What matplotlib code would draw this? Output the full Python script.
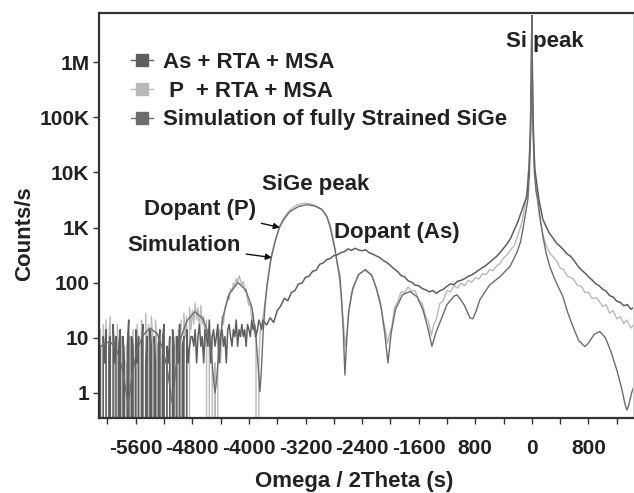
import numpy as np
import matplotlib
matplotlib.use('Agg')
import matplotlib.pyplot as plt
from matplotlib.lines import Line2D
from matplotlib.legend_handler import HandlerLine2D

plt.rcParams['font.family'] = 'Liberation Sans'
plt.rcParams['font.weight'] = 'bold'
plt.rcParams['axes.labelweight'] = 'bold'

# ---- data (Omega/2Theta in s, counts/s) ----

# As + RTA + MSA : noisy low part, 20 s steps from -6100
as_low = [7, 0, 10.5, 3.5, 14, 0, 7, 10.5, 0, 17.5,
          3.5, 10.5, 0, 7, 14, 0, 10.5, 3.5, 0, 7,
          21, 0, 10.5, 7, 0, 14, 3.5, 10.5, 0, 7,
          17.5, 0, 3.5, 10.5, 0, 14, 7, 0, 10.5, 3.5,
          0, 7, 14, 0, 10.5, 17.5, 0, 7, 3.5, 10.5,
          0, 14, 7, 0, 10.5, 3.5, 17.5, 0, 7, 10.5,
          0, 14, 3.5, 7, 10.5,
          10.5, 7, 14, 3.5, 10.5, 17.5, 7, 10.5, 3.5, 14,
          10.5, 7, 21, 3.5, 10.5, 14, 7, 10.5, 17.5, 3.5,
          10.5, 14, 7, 10.5, 3.5, 14, 17.5, 10.5, 7, 14,
          10.5, 21, 7, 14, 10.5, 17.5, 10.5, 14, 7, 17.5,
          14, 10.5, 21, 14, 17.5, 10.5, 14, 21, 17.5, 14,
          21]
# As, 50 s steps from -3750 to -150
as_mid = [17, 23, 19, 31, 38, 52, 47, 66, 72, 94,
          98, 125, 131, 160, 168, 215, 228, 262, 275, 310,
          320, 352, 365, 410, 385, 420, 392, 378, 395, 348,
          330, 305, 285, 252, 232, 205, 178, 160, 135, 128,
          108, 102, 90, 88, 78, 74, 68, 72, 64, 71,
          76, 86, 95, 92, 106, 110, 118, 130, 138, 152,
          170, 186, 205, 232, 262, 298, 350, 420, 505, 640,
          900, 1250, 1900]
as_peak_x = [-100, -71, -40, -20, -8, 0, 8, 20, 40, 100, 156]
as_peak_y = [2900, 3600, 12000, 60000, 600000, 7e6, 600000, 60000, 12000, 3200, 1400]
# As, 50 s steps from 200 to 1450
as_high = [1050, 780, 640, 520, 455, 390, 330, 300, 248, 200,
           170, 150, 128, 112, 96, 88, 76, 70, 58, 55,
           46, 44, 38, 40, 33, 36]

# P + RTA + MSA : noisy low part, 20 s steps from -6100
p_low = [14, 0, 17.5, 3.5, 21, 0, 10.5, 24.5, 0, 14,
         7, 0, 17.5, 3.5, 0, 10.5, 0, 7, 0, 3.5,
         0, 10.5, 0, 14, 3.5, 0, 17.5, 7, 0, 21,
         10.5, 0, 28, 3.5, 17.5, 0, 24.5, 10.5, 0, 21,
         7, 0, 14, 3.5, 0, 10.5, 0, 7, 0, 3.5,
         0, 7, 0, 10.5, 0, 14, 3.5, 21, 0, 28,
         10.5, 24.5, 0, 35, 14,
         31.5, 17.5, 42, 21, 35, 14, 38.5, 17.5, 24.5, 7,
         21, 0, 14, 3.5, 10.5, 0, 3.5, 0, 10.5, 14,
         3.5, 24.5, 17.5, 35, 42, 56, 49, 77, 70, 98,
         84, 119, 98, 133, 112, 91, 105, 70, 77, 49,
         38.5, 42, 21, 28, 10.5, 14, 0, 3.5]
p_x = [-3840, -3800, -3760, -3720, -3680, -3640, -3600, -3560, -3500, -3440,
       -3380, -3320, -3260, -3200, -3140, -3080, -3020, -2960, -2900, -2850,
       -2800, -2760, -2720, -2690, -2660, -2640, -2620, -2590, -2550, -2500,
       -2450, -2400, -2350, -2300, -2250, -2200, -2150, -2100, -2070, -2040,
       -2010, -1980, -1940, -1900, -1850, -1800, -1750, -1700, -1650, -1600,
       -1550, -1500, -1460, -1420, -1390, -1350, -1300, -1250, -1200, -1150,
       -1100, -1050, -1000, -950, -900, -850, -800, -750, -700, -650,
       -600, -550, -500, -450, -400, -350, -300, -250, -200, -141,
       -100, -60, -30, -12, 0, 12, 30, 60, 100, 150,
       200, 250, 297, 350, 400, 450, 500, 580, 650, 700,
       750, 800, 850, 919, 1000, 1050, 1100, 1150, 1200, 1250,
       1300, 1343, 1400, 1450]
p_y = [14, 24, 60, 150, 320, 520, 760, 1100, 1550, 1950,
       2300, 2550, 2700, 2750, 2700, 2550, 2350, 2050, 1600, 1100,
       560, 260, 110, 45, 16, 7, 11, 26, 66, 95,
       142, 155, 178, 146, 126, 80, 50, 20, 14, 8,
       12, 16, 36, 44, 68, 66, 84, 70, 72, 48,
       42, 24, 19, 11, 17, 22, 42, 48, 72, 68,
       88, 80, 98, 88, 110, 102, 124, 116, 145, 140,
       170, 165, 200, 222, 280, 320, 390, 470, 700, 1250,
       2400, 6000, 25000, 250000, 7e6, 250000, 25000, 5000, 1800, 800,
       480, 350, 296, 250, 185, 172, 132, 118, 88, 86,
       66, 67, 52, 53, 37, 40, 28, 31, 22, 24,
       18, 21, 15, 18]

# Simulation of fully strained SiGe (smooth)
sim_x = [-6120, -6050, -5965, -5880, -5823, -5770, -5730, -5710, -5690, -5650,
         -5583, -5500, -5400, -5300, -5230, -5160, -5110, -5088, -5065, -5030,
         -4975, -4880, -4763, -4650, -4594, -4530, -4495, -4480, -4462, -4420,
         -4367, -4280, -4155, -4050, -3958, -3900, -3865, -3845, -3825, -3800,
         -3774, -3746, -3700, -3675, -3620, -3562, -3500, -3420, -3300, -3180,
         -3070, -2968, -2900, -2855, -2820, -2784, -2750, -2714, -2690, -2665,
         -2643, -2620, -2590, -2530, -2450, -2360, -2270, -2200, -2130, -2080,
         -2035, -1990, -1930, -1830, -1724, -1620, -1540, -1470, -1413, -1360,
         -1300, -1200, -1100, -1060, -1018, -950, -876, -834, -790, -735,
         -600, -452, -311, -212, -160, -127, -90, -57, -35, -18,
         -7, 0, 7, 18, 35, 60, 85, 120, 160, 200,
         254, 330, 438, 510, 580, 660, 749, 800, 880, 961,
         1040, 1120, 1201, 1270, 1320, 1343, 1370, 1410, 1442]
sim_y = [6.5, 7.8, 8.5, 6.5, 4, 2, 0.9, 0.6, 0.9, 2.2,
         6, 11, 15, 12, 7, 3, 1.1, 0.66, 1.1, 3,
         9, 20, 30, 22, 14, 5, 1.5, 1.0, 1.5, 7,
         24, 62, 100, 75, 36, 10, 2.5, 1.05, 2.5, 12,
         36, 85, 220, 320, 620, 1050, 1450, 1950, 2400, 2600,
         2450, 2130, 1600, 1050, 650, 400, 220, 130, 50, 12,
         2.1, 8, 30, 80, 140, 170, 140, 80, 35, 12,
         3.5, 12, 32, 60, 69, 55, 32, 15, 7, 12,
         19, 40, 57, 60, 52, 38, 23, 22, 30, 49,
         90, 128, 195, 350, 550, 920, 1800, 3200, 9000, 50000,
         500000, 7e6, 500000, 50000, 10000, 4500, 3200, 1400, 650, 350,
         195, 110, 56, 28, 16, 9, 6.9, 8, 11.5, 13,
         10, 5.5, 2.6, 1.2, 0.6, 0.49, 0.6, 1.0, 1.3]

x_ticks = [-6000, -5600, -5200, -4800, -4400, -4000, -3600, -3200, -2800, -2400,
           -2000, -1600, -1200, -800, -400, 0, 400, 800, 1200]
x_labels = ['', '-5600', '', '-4800', '', '-4000', '', '-3200', '', '-2400',
            '', '-1600', '', '800', '', '0', '', '800', '']
y_ticks = [1, 10, 100, 1e3, 1e4, 1e5, 1e6]
y_labels = ['1', '10', '100', '1K', '10K', '100K', '1M']

legend_labels = ['As + RTA + MSA', ' P  + RTA + MSA', 'Simulation of fully Strained SiGe']

c_as = '#5e5e5e'
c_p = '#b9b9b9'
c_sim = '#6c6c6c'

# build the x grids of the stepped scans
as_x = np.concatenate([-6100 + 20 * np.arange(len(as_low)),
                       -3750 + 50 * np.arange(len(as_mid)),
                       as_peak_x,
                       200 + 50 * np.arange(len(as_high))])
as_y = np.concatenate([as_low, as_mid, as_peak_y, as_high])
p_all_x = np.concatenate([-6100 + 20 * np.arange(len(p_low)), p_x])
p_all_y = np.concatenate([p_low, p_y])


class MarkerFirst(HandlerLine2D):
    # square on the left, short line trailing to the right
    def get_xdata(self, legend, xdescent, ydescent, width, height, fontsize):
        return (np.array([-xdescent + 0.2 * width, -xdescent + width]),
                np.array([-xdescent + 0.22 * width]))


fig = plt.figure(figsize=(6.34, 4.93), dpi=100)
ax = fig.add_axes([99 / 634, 75 / 493, 534 / 634, 405 / 493])

ax.plot(p_all_x, p_all_y, color=c_p, lw=1.0)
ax.plot(as_x, as_y, color=c_as, lw=1.1)
ax.plot(sim_x, sim_y, color=c_sim, lw=1.0)

ax.set_yscale('log')
ax.set_xlim(-6120, 1430)
ax.set_ylim(0.35, 7.8e6)
ax.set_xticks(x_ticks)
ax.set_xticklabels(x_labels)
ax.set_yticks(y_ticks)
ax.set_yticklabels(y_labels)
ax.minorticks_off()
ax.tick_params(direction='out', length=4, width=1, labelsize=15, colors='#333333', labelcolor='#222222')
ax.tick_params(axis='y', pad=3)
ax.tick_params(axis='x', pad=11)

for s in ['left', 'bottom', 'top']:
    ax.spines[s].set_linewidth(1.6)
    ax.spines[s].set_color('#333333')
ax.spines['right'].set_linewidth(0.6)
ax.spines['right'].set_color('#cccccc')

ax.set_xlabel('Omega / 2Theta (s)', fontsize=16, color='#222222')
ax.set_ylabel('Counts/s', fontsize=16, color='#222222')
ax.xaxis.set_label_coords(0.478, -0.13)
ax.yaxis.set_label_coords(-0.12, 0.454)

handles = [Line2D([], [], color=c_as, marker='s', ms=8.5, lw=1),
           Line2D([], [], color=c_p, marker='s', ms=8.5, lw=1),
           Line2D([], [], color=c_sim, marker='s', ms=8.5, lw=1)]
ax.legend(handles, legend_labels, loc='upper left', bbox_to_anchor=(0.049, 0.904),
          frameon=False, fontsize=16, borderpad=0, borderaxespad=0,
          handlelength=1.25, handletextpad=0.45, labelspacing=0.35,
          handler_map={Line2D: MarkerFirst()}, labelcolor='#222222')

txt = dict(fontsize=16, color='#222222', ha='center', va='center')
ax.text(184, 2.4e6, 'Si peak', **txt)
ax.text(-3053, 6000, 'SiGe peak', **txt)
ax.text(-1908, 810, 'Dopant (As)', **txt)
arrow = dict(arrowstyle='-|>', color='#111111', lw=1, mutation_scale=9, shrinkA=2, shrinkB=0)
ax.annotate('Dopant (P)', xy=(-3562, 1000), xytext=(-4693, 2130), arrowprops=arrow, **txt)
ax.annotate('Simulation', xy=(-3675, 285), xytext=(-4919, 470), arrowprops=arrow, **txt)

fig.savefig('out.png', dpi=100)
